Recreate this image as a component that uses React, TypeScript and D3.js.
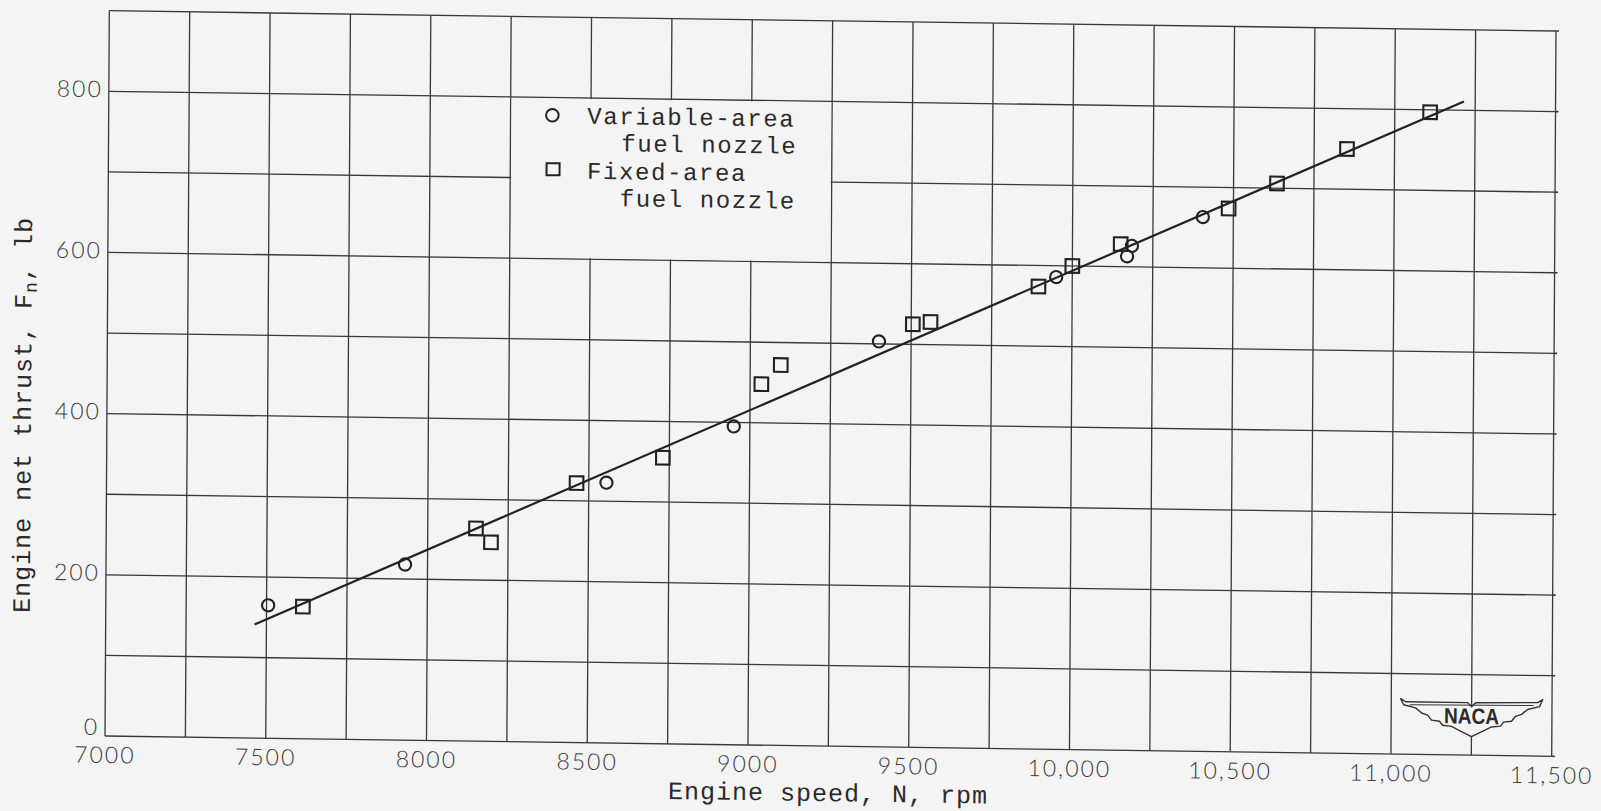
import React from "react";
import * as d3 from "d3";

// Engine net thrust vs engine speed, two fuel-nozzle configurations
const variableRpm = [7505, 7930, 8555, 8950, 9400, 9950, 10170, 10185, 10405];
const variableThrust = [165, 218, 323, 395, 503, 586, 613, 626, 663];

const fixedRpm = [7613, 8150, 8197, 8462, 8730, 9035, 9095, 9505, 9560, 9895, 10000, 10150, 10485, 10635, 10852, 11110];
const fixedThrust = [164, 264, 247, 322, 355, 448, 472, 525, 528, 574, 600, 628, 674, 706, 750, 797];

// Faired curve through both sets
const fitRpm = [7463, 11215];
const fitThrust = [141, 811];

const xTickValues = [7000, 7500, 8000, 8500, 9000, 9500, 10000, 10500, 11000, 11500];
const xTickLabels = ["7000", "7500", "8000", "8500", "9000", "9500", "10,000", "10,500", "11,000", "11,500"];
const yTickValues = [0, 200, 400, 600, 800];
const yTickLabels = ["0", "200", "400", "600", "800"];

const legendLabels = [
  ["Variable-area", "fuel nozzle"],
  ["Fixed-area", "fuel nozzle"],
];

const W = 1446.7;
const H = 725.3;
const INK = "#222";
const GRID = "#383838";
const BG = "#f4f4f4";
const MONO = "'Liberation Mono', 'DejaVu Sans Mono', monospace";
const NUM = "Lato, 'DejaVu Sans', sans-serif";

export default function App() {
  const x = d3.scaleLinear().domain([7000, 11500]).range([0, W]);
  const y = d3.scaleLinear().domain([0, 900]).range([H, 0]);

  const xGrid = d3.range(7000, 11501, 250);
  const yGrid = d3.range(0, 901, 100);

  const fitPts: [number, number][] = fitRpm.map((r, i) => [r, fitThrust[i]]);
  const fitPath = d3
    .line<[number, number]>()
    .x((d) => x(d[0]))
    .y((d) => y(d[1]))(fitPts);

  // legend sits in the cell block 8250-9250 rpm, 600-800 lb
  const legX = x(8380);
  const legY = y(778);
  const rowGap = 54;

  const logoX = x(11250);
  const logoY = y(49);

  return (
    <svg
      width={1601}
      height={811}
      style={{ position: "absolute", left: 0, top: 0, display: "block" }}
    >
      <rect width={1601} height={811} fill={BG} />
      <g transform="matrix(1, 0.01403, -0.00593, 1, 109.3, 10.7)">
        {/* grid */}
        {xGrid.map((v) => (
          <line key={"gx" + v} x1={x(v)} x2={x(v)} y1={0} y2={H} stroke={GRID} strokeWidth={1.3} />
        ))}
        {yGrid.map((v) => (
          <line key={"gy" + v} x1={0} x2={W} y1={y(v)} y2={y(v)} stroke={GRID} strokeWidth={1.3} />
        ))}
        {yGrid.map((v) => (
          <line key={"rt" + v} x1={W} x2={W + 3} y1={y(v)} y2={y(v)} stroke={GRID} strokeWidth={1.6} />
        ))}

        {/* legend panel clears the grid inside its block */}
        <rect
          x={x(8250) + 1}
          y={y(800) + 1}
          width={x(9250) - x(8250) - 2}
          height={y(600) - y(800) - 2}
          fill={BG}
        />
        <g transform={`translate(${legX},${legY})`} fill="#2a2a2a" fontFamily={MONO} fontSize={24}>
          <circle cx={0} cy={0} r={6.3} fill="none" stroke={INK} strokeWidth={2} />
          <text x={35} y={8} letterSpacing={1.6}>{legendLabels[0][0]}</text>
          <text x={69} y={35} letterSpacing={1.6}>{legendLabels[0][1]}</text>
          <rect x={-5.5} y={rowGap - 6} width={13} height={12} fill="none" stroke={INK} strokeWidth={2} />
          <text x={35} y={rowGap + 9} letterSpacing={1.6}>{legendLabels[1][0]}</text>
          <text x={68} y={rowGap + 36} letterSpacing={1.6}>{legendLabels[1][1]}</text>
        </g>

        {/* tick labels */}
        {xTickValues.map((v, i) => (
          <text
            key={"xt" + v}
            x={x(v)}
            y={H + 27}
            textAnchor="middle"
            fontFamily={NUM}
            fontWeight={300}
            fontSize={23}
            letterSpacing={2}
            fill="#3a3a3a"
          >
            {xTickLabels[i]}
          </text>
        ))}
        {yTickValues.map((v, i) => (
          <text
            key={"yt" + v}
            x={-6}
            y={v === 0 ? y(v) - 1 : y(v) + 6}
            textAnchor="end"
            fontFamily={NUM}
            fontWeight={300}
            fontSize={23}
            letterSpacing={2}
            fill="#3a3a3a"
          >
            {yTickLabels[i]}
          </text>
        ))}

        {/* axis titles */}
        <text
          x={x(9250)}
          y={H + 55}
          textAnchor="middle"
          fontFamily={MONO}
          fontSize={25}
          letterSpacing={1}
          fill="#2a2a2a"
        >
          Engine speed, N, rpm
        </text>
        <text
          transform={`translate(-76, ${y(397)}) rotate(-90)`}
          textAnchor="middle"
          fontFamily={MONO}
          fontSize={25}
          letterSpacing={1}
          fill="#2a2a2a"
        >
          Engine net thrust, F
          <tspan fontSize={18} dy={5}>n</tspan>
          <tspan dy={-5}>, lb</tspan>
        </text>

        {/* faired line */}
        <path d={fitPath || ""} fill="none" stroke={INK} strokeWidth={2.2} />

        {/* data */}
        {variableRpm.map((r, i) => (
          <circle
            key={"v" + i}
            cx={x(r)}
            cy={y(variableThrust[i])}
            r={6.1}
            fill="none"
            stroke={INK}
            strokeWidth={2.1}
          />
        ))}
        {fixedRpm.map((r, i) => (
          <rect
            key={"f" + i}
            x={x(r) - 6.8}
            y={y(fixedThrust[i]) - 6.8}
            width={13.6}
            height={13.6}
            fill="none"
            stroke={INK}
            strokeWidth={2.1}
          />
        ))}

        {/* NACA wings */}
        <g transform={`translate(${logoX},${logoY})`}>
          <path
            d="M -71,-16 L -66,-13 L -4,-13 L 0,-9 L 4,-13 L 66,-14 L 71,-17 L 68,-10 L 56,-7 L 50,-2 L 44,0 L 40,5 L 32,6 L 29,10 L 20,11 L 12,15 L 0,21 L -12,15 L -20,11 L -29,10 L -32,6 L -40,5 L -44,0 L -50,-2 L -56,-7 L -68,-10 Z"
            fill={BG}
            stroke="#333"
            strokeWidth={1.4}
            strokeLinejoin="round"
          />
          <path d="M -62,-10 L 62,-11" fill="none" stroke="#333" strokeWidth={1} />
          <text
            x={0}
            y={8}
            textAnchor="middle"
            fontFamily="'Liberation Sans', Arial, sans-serif"
            fontWeight={700}
            fontSize={22}
            textLength={55}
            lengthAdjust="spacingAndGlyphs"
            fill="#2a2a2a"
          >
            NACA
          </text>
        </g>
      </g>
    </svg>
  );
}
